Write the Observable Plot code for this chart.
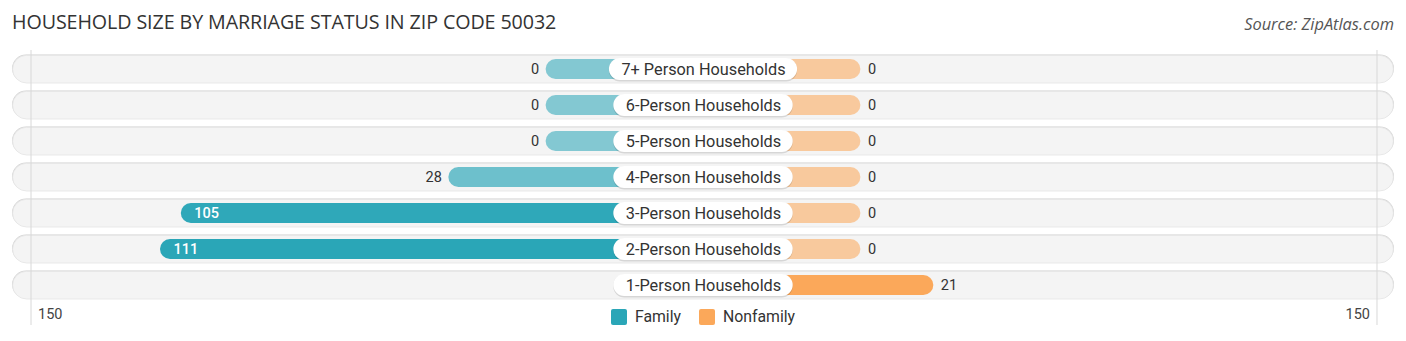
<!DOCTYPE html>
<html><head><meta charset="utf-8">
<script src="https://cdn.jsdelivr.net/npm/d3@7"></script>
<script src="https://cdn.jsdelivr.net/npm/@observablehq/plot@0.6"></script>
<style>
body{margin:0;background:#fff;}
#wrap{position:relative;width:1406px;height:341px;overflow:hidden;font-family:Roboto,sans-serif;}
#chart{position:absolute;left:0;top:0;}
#title{position:absolute;left:12px;top:8px;font-family:"Open Sans",sans-serif;font-size:19.7px;color:#333;letter-spacing:-0.1px;}
#source{position:absolute;right:12px;top:12px;font-family:"Open Sans",sans-serif;font-style:italic;font-size:16.4px;color:#555;}
#legend{position:absolute;top:307px;left:0;width:1406px;display:flex;justify-content:center;font-size:15.8px;color:#333;}
.item{display:flex;align-items:center;margin:0 9px;}
.sw{width:16px;height:16px;border-radius:2px;margin-right:8px;}
</style></head><body>
<div id="wrap">
  <div id="chart"></div>
  <div id="title">HOUSEHOLD SIZE BY MARRIAGE STATUS IN ZIP CODE 50032</div>
  <div id="source">Source: ZipAtlas.com</div>
  <div id="legend"></div>
</div>
<script>
const categories = ["7+ Person Households","6-Person Households","5-Person Households","4-Person Households","3-Person Households","2-Person Households","1-Person Households"];
const family = [0,0,0,28,105,111,null];
const nonfamily = [0,0,0,0,0,0,21];
const axisTicks = [150];
const seriesNames = ["Family","Nonfamily"];
const seriesColors = ["#2aa6b7","#fba85a"];

const W = 1406, H = 341;
const gap = 45.3;      // half-width of the central label zone, in value units
const extent = 198.9;  // half-width of the row background, in value units
const pxPerUnit = (W - 24) / (2 * extent);

const rows = categories.map((c, i) => ({cat: c, fam: family[i], non: nonfamily[i]}));
const maxF = d3.max(family), maxN = d3.max(nonfamily);

const labelSize = 16.3;
const ctx = document.createElement("canvas").getContext("2d");
ctx.font = labelSize + "px Roboto";
const halfW = c => (ctx.measureText(c).width / 2 + 12) / pxPerUnit;

const fam = rows.filter(r => r.fam != null).map(r => ({...r, op: 0.56 + 0.44 * r.fam / maxF}));
const non = rows.filter(r => r.non != null).map(r => ({...r, op: 0.56 + 0.44 * r.non / maxN}));
const inside = r => r.fam > 50;

const chart = Plot.plot({
  width: W, height: H,
  marginLeft: 12, marginRight: 12, marginTop: 50, marginBottom: 38,
  x: {domain: [-extent, extent], axis: null},
  y: {domain: categories, axis: null, padding: 0},
  style: {fontFamily: "Roboto, sans-serif", background: "transparent"},
  marks: [
    // row backgrounds
    Plot.barX(rows, {y: "cat", x1: -extent, x2: extent, insetTop: 3.6, insetBottom: 4.6, rx: 14, fill: "#d4d4d4"}),
    Plot.barX(rows, {y: "cat", x1: -extent, x2: extent, insetTop: 4.3, insetBottom: 4, insetLeft: 0.6, insetRight: 0.6, rx: 14, fill: "#f4f4f4", stroke: "#e4e4e4", strokeWidth: 0.8}),
    // grid at ticks
    Plot.ruleX(axisTicks.map(t => -(gap + t)), {stroke: "#d8d8d8", strokeWidth: 1, dx: 6, insetBottom: -22}),
    Plot.ruleX(axisTicks.map(t => gap + t), {stroke: "#d8d8d8", strokeWidth: 1, dx: -5, insetBottom: -22}),
    // bars
    Plot.barX(fam, {y: "cat", x1: d => -(gap + d.fam), x2: 0, insetTop: 8, insetBottom: 8, rx: 10, fill: seriesColors[0], fillOpacity: "op"}),
    Plot.barX(non, {y: "cat", x1: 0, x2: d => gap + d.non, insetTop: 8, insetBottom: 8, rx: 10, fill: seriesColors[1], fillOpacity: "op"}),
    // label boxes
    Plot.barX(rows, {y: "cat", x1: d => -halfW(d.cat), x2: d => halfW(d.cat), insetTop: 6.6, insetBottom: 6.4, rx: 11, fill: "#000", fillOpacity: 0.12, dy: 0.8}),
    Plot.barX(rows, {y: "cat", x1: d => -halfW(d.cat), x2: d => halfW(d.cat), insetTop: 7, insetBottom: 7, rx: 11, fill: "#fff"}),
    Plot.text(rows, {y: "cat", x: 0, text: "cat", fontSize: labelSize, fill: "#333", dy: 0}),
    // value labels
    Plot.text(fam.filter(d => !inside(d)), {y: "cat", x: d => -(gap + d.fam), text: d => String(d.fam), textAnchor: "end", dx: -7, fontSize: 14.5, fill: "#333"}),
    Plot.text(fam.filter(inside), {y: "cat", x: d => -(gap + d.fam), text: d => String(d.fam), textAnchor: "start", dx: 13, fontSize: 14.5, fill: "#fff", fontWeight: 500}),
    Plot.text(non, {y: "cat", x: d => gap + d.non, text: d => String(d.non), textAnchor: "start", dx: 7, fontSize: 14.5, fill: "#333"}),
    // axis tick labels
    Plot.text(axisTicks, {x: d => -(gap + d), text: d => String(d), frameAnchor: "bottom", dy: 15, textAnchor: "start", dx: 13, fontSize: 14.5, fill: "#444"}),
    Plot.text(axisTicks, {x: d => gap + d, text: d => String(d), frameAnchor: "bottom", dy: 15, textAnchor: "end", dx: -12, fontSize: 14.5, fill: "#444"})
  ]
});
document.getElementById("chart").appendChild(chart);

const legend = document.getElementById("legend");
seriesNames.forEach((n, i) => {
  const it = document.createElement("div"); it.className = "item";
  const sw = document.createElement("div"); sw.className = "sw"; sw.style.background = seriesColors[i];
  const tx = document.createElement("span"); tx.textContent = n;
  it.appendChild(sw); it.appendChild(tx); legend.appendChild(it);
});
</script>
</body></html>
